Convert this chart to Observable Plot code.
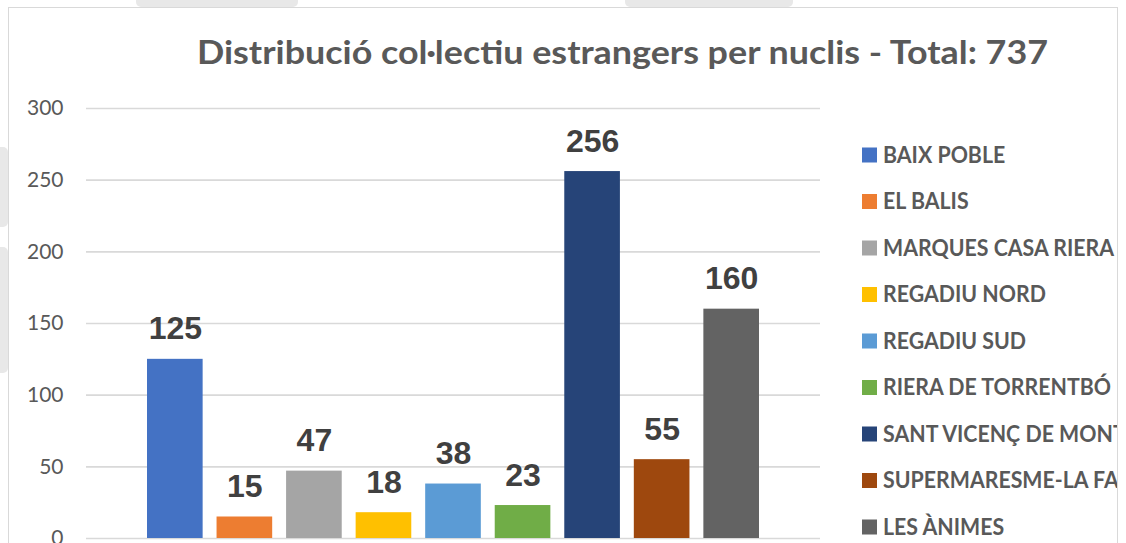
<!DOCTYPE html>
<html>
<head>
<meta charset="utf-8">
<script src="https://cdn.jsdelivr.net/npm/d3@7"></script>
<script src="https://cdn.jsdelivr.net/npm/@observablehq/plot@0.6"></script>
<style>
  html, body { margin: 0; padding: 0; background: #fff; overflow: hidden; width: 1126px; height: 543px; }
  #bg { position: absolute; left: 0; top: 0; }
  #chart { position: absolute; left: 8px; top: 7px; width: 1108px; height: 600px; border: 1px solid #d9d9d9; background: #fff; overflow: hidden; }
  #chart > svg { position: absolute; left: 0; top: 0; }
</style>
</head>
<body>
<svg id="bg" width="1126" height="543">
  <rect x="136" y="-6" width="162" height="13" rx="5" fill="#e8e8e8"></rect>
  <rect x="625" y="-6" width="168" height="13" rx="5" fill="#e8e8e8"></rect>
  <rect x="-6" y="147" width="14" height="80" rx="5" fill="#e8e8e8"></rect>
  <rect x="-6" y="247" width="14" height="126" rx="5" fill="#e8e8e8"></rect>
</svg>
<div id="chart"></div>
<script>
const title = "Distribució col·lectiu estrangers per nuclis - Total: 737";
const names = ["BAIX POBLE", "EL BALIS", "MARQUES CASA RIERA", "REGADIU NORD", "REGADIU SUD", "RIERA DE TORRENTBÓ", "SANT VICENÇ DE MONTALT", "SUPERMARESME-LA FA", "LES ÀNIMES"];
const values = [125, 15, 47, 18, 38, 23, 256, 55, 160];
const colors = ["#4472C4", "#ED7D31", "#A5A5A5", "#FFC000", "#5B9BD5", "#70AD47", "#264478", "#9E480E", "#636363"];
const yTicks = [0, 50, 100, 150, 200, 250, 300];

const data = names.map((name, i) => ({name, value: values[i]}));
const chart = document.getElementById("chart");

const plot = Plot.plot({
  width: 811,
  height: 560,
  marginLeft: 77,
  marginRight: 0,
  marginTop: 100,
  marginBottom: 30,
  style: {fontFamily: "Lato", background: "transparent", overflow: "visible"},
  x: {type: "band", domain: names, paddingInner: 0.2, paddingOuter: 0, insetLeft: 61, insetRight: 61, round: false, axis: null, label: null},
  y: {domain: [0, 300], axis: null, label: null},
  color: {domain: names, range: colors},
  marks: [
    Plot.gridY(yTicks, {stroke: "#d9d9d9", strokeOpacity: 1, strokeWidth: 1.6}),
    Plot.axisY(yTicks, {tickSize: 0, tickPadding: 23, fontSize: 21, fill: "#595959", label: null, tickFormat: d => String(d)}),
    Plot.barY(data, {x: "name", y: "value", fill: "name"}),
    Plot.text(data, {x: "name", y: "value", text: d => String(d.value), lineAnchor: "bottom", dy: -20,
      fontSize: 32, fontWeight: "bold", fontFamily: "Liberation Sans", fill: "#404040"})
  ]
});
chart.appendChild(plot);

// Overlay: title and legend
const ov = d3.select(chart).append("svg").attr("width", 1108).attr("height", 600);
ov.append("text")
  .attr("x", 188).attr("y", 55.5)
  .attr("font-family", "Lato").attr("font-weight", "bold").attr("font-size", 33)
  .attr("fill", "#595959")
  .attr("textLength", 851).attr("lengthAdjust", "spacingAndGlyphs")
  .text(title);

const leg = ov.append("g");
names.forEach((n, i) => {
  const cy = 147 + i * 46.5;
  leg.append("rect").attr("x", 853).attr("y", cy - 7.5).attr("width", 15).attr("height", 15).attr("fill", colors[i]);
});
const tg = leg.append("g");
const texts = names.map((n, i) => {
  const cy = 147 + i * 46.5;
  return tg.append("text").attr("x", 0).attr("y", cy + 8)
    .attr("font-family", "Lato").attr("font-weight", "bold").attr("font-size", 23.5)
    .attr("fill", "#595959").text(n);
});
const w = texts[3].node().getComputedTextLength();
const sx = w > 0 ? 163 / w : 1;
tg.attr("transform", `translate(874,0) scale(${sx},1)`);
</script>
</body>
</html>
